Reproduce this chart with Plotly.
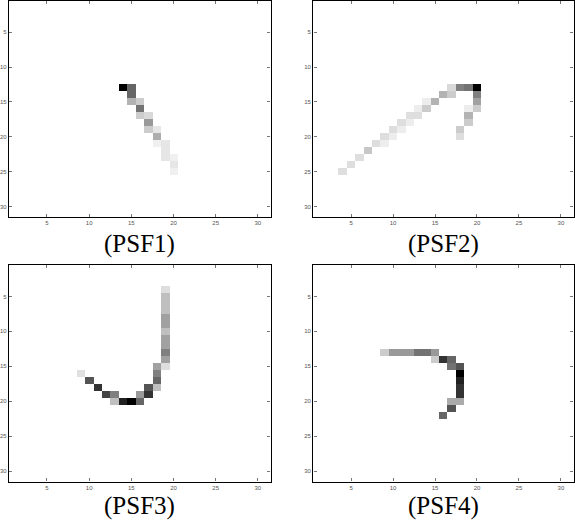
import numpy as np
import plotly.graph_objects as go

N = 31
tick_vals = [5, 10, 15, 20, 25, 30]
tick_text = ["5", "10", "15", "20", "25", "30"]
labels = ["(PSF1)", "(PSF2)", "(PSF3)", "(PSF4)"]

# PSF1: column index, row index, darkness value
psf1_cols = [14, 15, 15, 15, 16, 16, 16, 17, 17, 17, 18, 18, 18, 19, 19, 19, 20, 20, 20]
psf1_rows = [13, 13, 14, 15, 15, 16, 17, 17, 18, 19, 19, 20, 21, 21, 22, 23, 23, 24, 25]
psf1_vals = [1.0, 0.6, 0.6, 0.3, 0.2, 0.55, 0.2, 0.15, 0.4, 0.2, 0.1, 0.32, 0.06, 0.1, 0.1, 0.1, 0.06, 0.1, 0.06]

# PSF2
psf2_cols = [17, 18, 19, 20, 16, 17, 20, 14, 15, 20, 13, 14, 19, 20, 12, 13, 19, 11, 12, 19,
             10, 11, 18, 9, 10, 18, 8, 9, 7, 6, 5, 4]
psf2_rows = [13, 13, 13, 13, 14, 14, 14, 15, 15, 15, 16, 16, 16, 16, 17, 17, 17, 18, 18, 18,
             19, 19, 19, 20, 20, 20, 21, 21, 22, 23, 24, 25]
psf2_vals = [0.15, 0.5, 0.55, 1.0, 0.3, 0.2, 0.5, 0.07, 0.3, 0.37, 0.07, 0.2, 0.07, 0.2, 0.13, 0.13, 0.3,
             0.13, 0.07, 0.2, 0.13, 0.07, 0.2, 0.13, 0.07, 0.13, 0.13, 0.07, 0.22, 0.13, 0.13, 0.13]

# PSF3
psf3_cols = [19, 19, 19, 19, 19, 19, 19, 19, 19, 19, 19, 19, 18, 18, 18, 18, 17, 17, 16, 16,
             15, 14, 13, 13, 12, 11, 10, 9]
psf3_rows = [4, 5, 6, 7, 8, 9, 10, 11, 12, 13, 14, 15, 15, 16, 17, 18, 18, 19, 19, 20,
             20, 20, 19, 20, 19, 18, 17, 16]
psf3_vals = [0.13, 0.25, 0.25, 0.25, 0.37, 0.37, 0.25, 0.37, 0.37, 0.5, 0.37, 0.13, 0.37, 0.5, 0.6, 0.25,
             0.67, 0.8, 0.4, 0.6, 1.0, 0.87, 0.5, 0.25, 0.73, 0.8, 0.67, 0.12]

# PSF4
psf4_cols = [9, 10, 11, 12, 13, 14, 15, 15, 16, 17, 17, 18, 18, 18, 18, 18, 17, 18, 17, 16]
psf4_rows = [13, 13, 13, 13, 13, 13, 13, 14, 14, 14, 15, 15, 16, 17, 18, 19, 20, 20, 21, 22]
psf4_vals = [0.2, 0.4, 0.4, 0.4, 0.55, 0.55, 0.4, 0.2, 0.8, 0.6, 0.55, 0.67, 1.0, 0.87, 0.8, 0.8,
             0.33, 0.33, 0.67, 0.6]

psfs = [(psf1_cols, psf1_rows, psf1_vals),
        (psf2_cols, psf2_rows, psf2_vals),
        (psf3_cols, psf3_rows, psf3_vals),
        (psf4_cols, psf4_rows, psf4_vals)]

W, H = 575, 527
x_domains = [[9 / W, 270.5 / W], [313.3 / W, 573.5 / W]]
y_domains = [[(H - 217) / H, (H - 0.8) / H], [(H - 481.5) / H, (H - 265) / H]]
label_y = [244, 506]

fig = go.Figure()
idx = np.arange(1, N + 1)
for k, (cols, rows, vals) in enumerate(psfs):
    z = np.zeros((N, N))
    for c, r, v in zip(cols, rows, vals):
        z[r - 1, c - 1] = v
    i, j = divmod(k, 2)
    sfx = "" if k == 0 else str(k + 1)
    fig.add_trace(go.Heatmap(
        z=z, x=idx, y=idx,
        colorscale=[[0, "white"], [1, "black"]],
        zmin=0, zmax=1, showscale=False, hoverinfo="skip",
        xaxis="x" + sfx, yaxis="y" + sfx,
    ))
    axcommon = dict(
        showline=True, linecolor="black", linewidth=1.4, mirror="ticks",
        ticks="inside", ticklen=3, tickwidth=1, tickcolor="#777",
        tickvals=tick_vals, ticktext=tick_text, automargin=False,
        tickfont=dict(size=6, color="#555", family="Liberation Sans"),
        showgrid=False, zeroline=False, fixedrange=True,
    )
    fig.layout["xaxis" + sfx] = dict(
        domain=x_domains[j], range=[0.5, 31.5], anchor="y" + sfx, **axcommon)
    fig.layout["yaxis" + sfx] = dict(
        domain=y_domains[i], range=[31.5, 0.5], anchor="x" + sfx, **axcommon)
    xc = (x_domains[j][0] + x_domains[j][1]) / 2
    fig.add_annotation(
        text=labels[k], x=xc, y=1 - label_y[i] / H, xref="paper", yref="paper",
        xanchor="center", yanchor="middle", showarrow=False,
        font=dict(family="Liberation Serif", size=25, color="black"),
    )

fig.update_layout(
    width=W, height=H, margin=dict(l=0, r=0, t=0, b=0, pad=0, autoexpand=False),
    paper_bgcolor="white", plot_bgcolor="white", showlegend=False,
)
fig.write_html("out.html", config={"displayModeBar": False},
               post_script="document.body.style.margin='0px';")
